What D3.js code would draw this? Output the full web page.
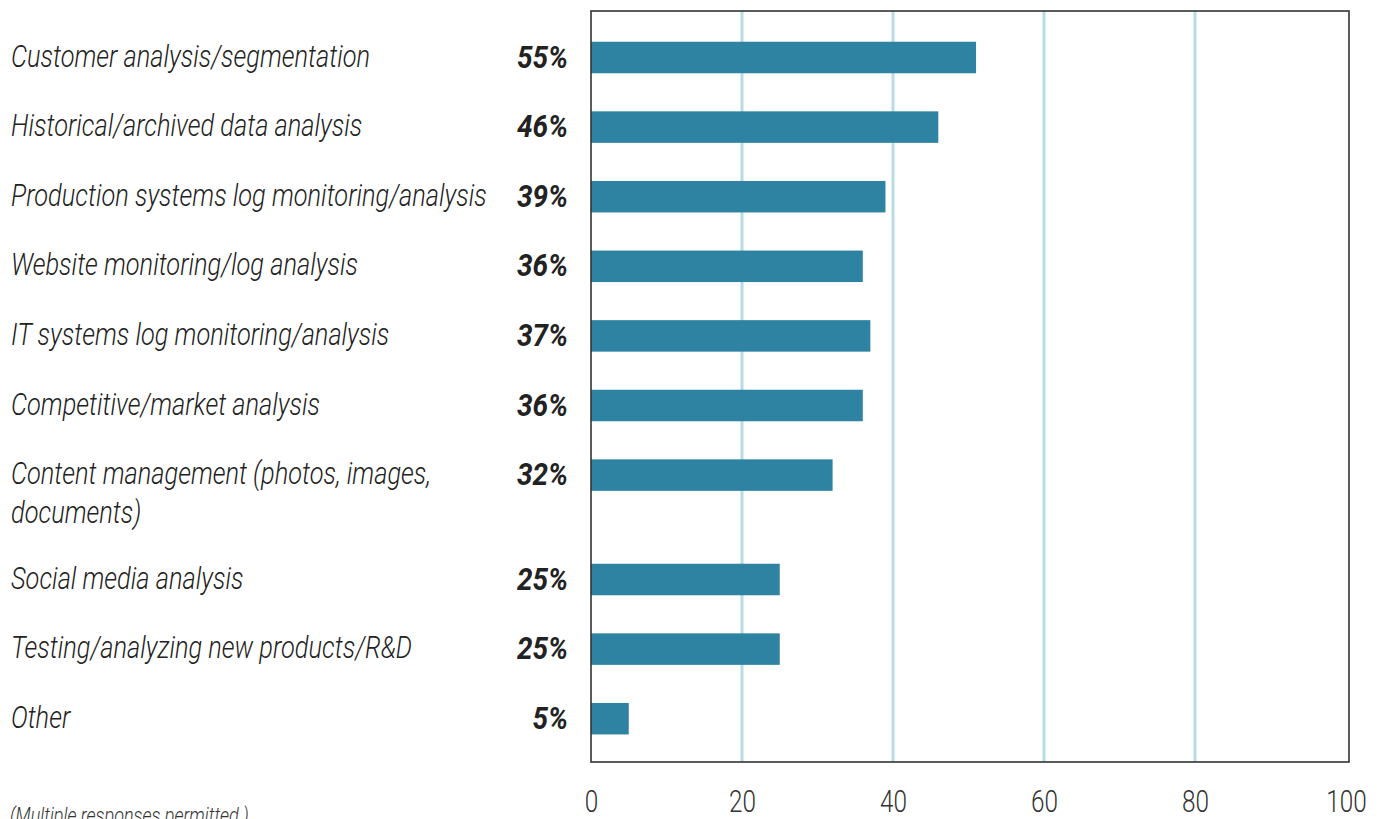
<!DOCTYPE html>
<html>
<head>
<meta charset="utf-8">
<script src="https://cdn.jsdelivr.net/npm/d3@7"></script>
<style>
  html, body { margin: 0; padding: 0; background: #fff; }
  svg { display: block; }
  .cat { font-family: "Roboto", "Liberation Sans", sans-serif; font-style: italic; font-weight: 300; font-size: 31px; fill: #222; }
  .pct { font-family: "Roboto", "Liberation Sans", sans-serif; font-style: italic; font-weight: 700; font-size: 31px; fill: #222; }
  .tick text { font-family: "Roboto", "Liberation Sans", sans-serif; font-weight: 300; font-size: 32px; fill: #333; }
  .note { font-family: "Roboto", "Liberation Sans", sans-serif; font-style: italic; font-weight: 300; font-size: 22px; fill: #333; }
</style>
</head>
<body>
<svg id="chart" width="1387" height="819"></svg>
<script>
const categoryLines = [
  ["Customer analysis/segmentation"],
  ["Historical/archived data analysis"],
  ["Production systems log monitoring/analysis"],
  ["Website monitoring/log analysis"],
  ["IT systems log monitoring/analysis"],
  ["Competitive/market analysis"],
  ["Content management (photos, images,", "documents)"],
  ["Social media analysis"],
  ["Testing/analyzing new products/R&D"],
  ["Other"]
];
const categories = categoryLines.map(l => l.join(" "));
const barValues = [51, 46, 39, 36, 37, 36, 32, 25, 25, 5];
const valueLabels = ["55%", "46%", "39%", "36%", "37%", "36%", "32%", "25%", "25%", "5%"];
const xTicks = [0, 20, 40, 60, 80, 100];
const note = "(Multiple responses permitted.)";

const svg = d3.select("#chart");

// narrow-font emulation: horizontal squeeze about the text anchor
function condense(sel, k) {
  sel.each(function () {
    const t = d3.select(this);
    const x = +t.attr("x") || 0, y = +t.attr("y") || 0;
    t.attr("x", 0).attr("y", 0).attr("transform", `translate(${x},${y}) scale(${k},1)`);
    t.selectAll("tspan").attr("x", 0);
  });
}

// slot position of each row: extra lines take half a slot more
const slots = [];
let acc = 0;
categoryLines.forEach((l) => { slots.push(acc); acc += 1 + 0.5 * (l.length - 1); });

const x = d3.scaleLinear().domain([0, 100]).range([591, 1346]);
const y = d3.scaleLinear().domain([0, slots[slots.length - 1]]).range([57.5, 718.7]);
const barH = 31.5;
const frameTop = 11, frameBottom = 762;

// gridlines
svg.append("g").selectAll("line").data(xTicks.filter(t => t > 0 && t < 100)).join("line")
  .attr("x1", d => x(d)).attr("x2", d => x(d))
  .attr("y1", frameTop).attr("y2", frameBottom)
  .attr("stroke", "#b7dde3").attr("stroke-width", 3);

// bars
svg.append("g").selectAll("rect").data(barValues).join("rect")
  .attr("x", x(0))
  .attr("y", (d, i) => y(slots[i]) - barH / 2)
  .attr("width", d => x(d) - x(0))
  .attr("height", barH)
  .attr("fill", "#2d83a1");

// frame
svg.append("rect")
  .attr("x", x(0)).attr("y", frameTop)
  .attr("width", x(100) + 3 - x(0)).attr("height", frameBottom - frameTop)
  .attr("fill", "none").attr("stroke", "#333").attr("stroke-width", 1.6);

// x axis
const xAxis = d3.axisBottom(x).tickValues(xTicks).tickSize(0).tickPadding(0).tickFormat(d3.format("d"));
const gx = svg.append("g").attr("transform", `translate(0, ${frameBottom})`).call(xAxis);
gx.select(".domain").remove();
gx.selectAll(".tick text").attr("dy", null).attr("y", 0)
  .attr("transform", "translate(0,50) scale(0.76,1)").attr("fill", "#333");

// category labels
const cat = svg.append("g").selectAll("text").data(categoryLines).join("text")
  .attr("class", "cat")
  .attr("x", 11)
  .attr("y", (d, i) => y(slots[i]) + 9);
cat.selectAll("tspan").data(d => d).join("tspan")
  .attr("x", 0)
  .attr("dy", (d, j) => j === 0 ? 0 : 39)
  .text(d => d);
condense(cat, 0.82);

// value labels
const pct = svg.append("g").selectAll("text").data(valueLabels).join("text")
  .attr("class", "pct")
  .attr("x", 568)
  .attr("y", (d, i) => y(slots[i]) + 10)
  .attr("text-anchor", "end")
  .text(d => d);
condense(pct, 0.9);

// note
const nt = svg.append("text").attr("class", "note").attr("x", 10).attr("y", 823).text(note);
condense(nt, 0.82);
</script>
</body>
</html>
